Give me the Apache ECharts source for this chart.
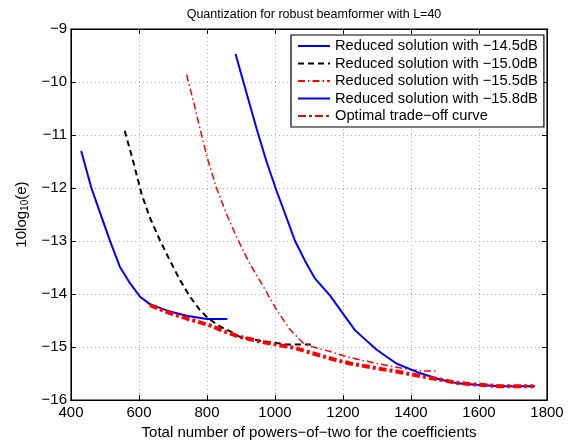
<!DOCTYPE html>
<html><head><meta charset="utf-8">
<script src="https://cdn.jsdelivr.net/npm/echarts@6/dist/echarts.min.js"></script>
<style>html,body{margin:0;padding:0;background:#fff}#c{width:574px;height:445px}</style>
</head><body><div id="c"></div>
<script>
const titleText = 'Quantization for robust beamformer with L=40';
const xName = 'Total number of powers\u2212of\u2212two for the coefficients';
const seriesNames = ['Reduced solution with \u221214.5dB','Reduced solution with \u221215.0dB','Reduced solution with \u221215.5dB','Reduced solution with \u221215.8dB','Optimal trade\u2212off curve'];
const xTicks = [400,600,800,1000,1200,1400,1600,1800];
const yTicks = [-16,-15,-14,-13,-12,-11,-10,-9];

const s145 = [[430,-11.3],[460,-12.0],[490,-12.55],[515,-13.0],[544,-13.49],[574,-13.8],[603,-14.05],[632,-14.19],[691,-14.33],[740,-14.41],[799,-14.47],[860,-14.47]];
const s150 = [[558,-10.92],[583,-11.5],[608,-12.12],[632,-12.56],[662,-12.99],[691,-13.37],[721,-13.74],[750,-14.05],[779,-14.3],[804,-14.46],[838,-14.61],[877,-14.73],[897,-14.81],[956,-14.88],[1034,-14.95],[1113,-14.95]];
const s155 = [[740,-9.86],[761,-10.39],[784,-11.0],[804,-11.5],[828,-12.0],[858,-12.5],[892,-12.99],[926,-13.43],[966,-13.86],[1005,-14.3],[1044,-14.67],[1082,-14.92],[1113,-15.0],[1160,-15.08],[1200,-15.16],[1250,-15.24],[1300,-15.31],[1350,-15.37],[1400,-15.43],[1440,-15.45],[1480,-15.45]];
const s158 = [[884,-9.47],[915,-10.18],[946,-10.88],[975,-11.5],[1005,-12.06],[1034,-12.56],[1059,-13.0],[1088,-13.37],[1118,-13.71],[1162,-14.03],[1200,-14.37],[1235,-14.68],[1299,-15.05],[1357,-15.31],[1426,-15.49],[1485,-15.61],[1534,-15.68],[1593,-15.71],[1662,-15.74],[1765,-15.74]];
const sOpt = [[632,-14.21],[691,-14.36],[740,-14.46],[804,-14.58],[858,-14.72],[892,-14.8],[975,-14.92],[1054,-15.01],[1123,-15.14],[1171,-15.23],[1221,-15.31],[1299,-15.4],[1357,-15.46],[1397,-15.51],[1446,-15.57],[1485,-15.61],[1530,-15.67],[1574,-15.7],[1623,-15.72],[1667,-15.74],[1711,-15.74],[1760,-15.74]];

const FONT = 'Liberation Sans';
const minus = v => String(v).replace('-', '\u2212');
const chart = echarts.init(document.getElementById('c'));
const gridLine = {show:true, lineStyle:{color:'#aaa', type:[1,3], width:1}};
const tick = {inside:true, length:5, lineStyle:{color:'#000'}};
chart.setOption({
  animation:false,
  backgroundColor:'#fff',
  title:{text:titleText, left:309, textAlign:'center', top:3, textStyle:{fontFamily:FONT, fontSize:12.5, fontWeight:'normal', color:'#000'}},
  grid:{left:71, top:29, width:476, height:375, show:true, borderColor:'#000', borderWidth:1.2, backgroundColor:'#fff'},
  legend:{orient:'vertical', left:291, top:35, itemWidth:32, itemHeight:15, itemGap:2.5, padding:[3.5,6,3.5,6],
    borderColor:'#000', borderWidth:1.2, backgroundColor:'#fff', data:seriesNames,
    itemStyle:{opacity:0},
    textStyle:{fontFamily:FONT, fontSize:14.7, color:'#000', lineHeight:15}},
  xAxis:[{type:'value', min:xTicks[0], max:xTicks[xTicks.length-1], interval:200,
    name:xName, nameLocation:'middle', nameGap:21, nameTextStyle:{fontFamily:FONT, fontSize:15, color:'#000'},
    axisLine:{show:true, lineStyle:{color:'#000'}}, axisTick:tick,
    axisLabel:{fontFamily:FONT, fontSize:15, color:'#000', margin:5, formatter:minus}, splitLine:gridLine},
    {type:'value', position:'top', min:400, max:1800, interval:200, axisLine:{show:true, lineStyle:{color:'#000'}},
    axisTick:tick, axisLabel:{show:false}, splitLine:{show:false}}],
  yAxis:[{type:'value', min:yTicks[0], max:yTicks[yTicks.length-1], interval:1,
    name:'10log{s|10}(e)', nameLocation:'middle', nameRotate:90, nameGap:33,
    nameTextStyle:{fontFamily:FONT, fontSize:15, color:'#000', rich:{s:{fontFamily:FONT, fontSize:10, verticalAlign:'bottom', padding:[8,0,0,0], color:'#000'}}},
    axisLine:{show:true, lineStyle:{color:'#000'}}, axisTick:tick,
    axisLabel:{fontFamily:FONT, fontSize:15, color:'#000', margin:4, formatter:minus}, splitLine:gridLine},
    {type:'value', position:'right', min:-16, max:-9, interval:1, axisLine:{show:true, lineStyle:{color:'#000'}},
    axisTick:tick, axisLabel:{show:false}, splitLine:{show:false}}],
  series:[
    {name:seriesNames[0], type:'line', data:s145, symbol:'none', color:'#0000ff', lineStyle:{color:'#0000ff', width:2}},
    {name:seriesNames[1], type:'line', data:s150, symbol:'none', color:'#000', lineStyle:{color:'#000', width:2, type:[6,4]}},
    {name:seriesNames[2], type:'line', data:s155, symbol:'none', color:'#ff0000', lineStyle:{color:'#ff0000', width:1.5, type:[7,3,1.5,3]}},
    {name:seriesNames[3], type:'line', data:s158, symbol:'none', color:'#0000ff', lineStyle:{color:'#0000ff', width:2}},
    {name:seriesNames[4], type:'line', data:sOpt, symbol:'none', color:'#ff0000', lineStyle:{color:'#ff0000', width:4, type:[8,3,3,3]}}
  ]
});
</script></body></html>
